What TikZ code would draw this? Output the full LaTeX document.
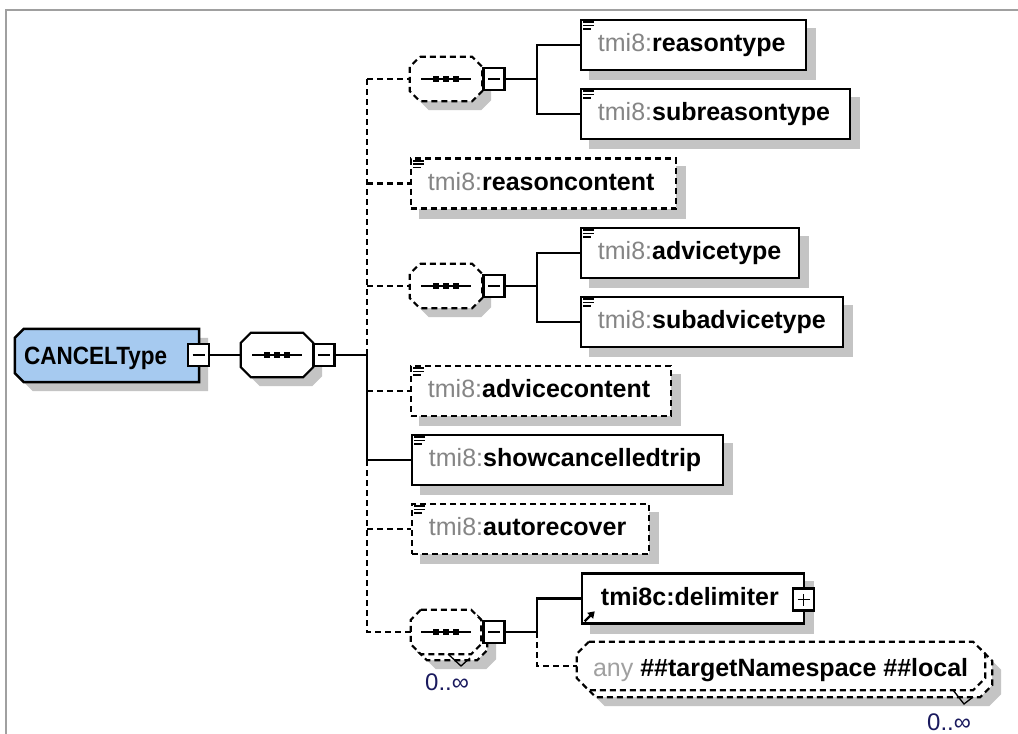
\documentclass[tikz,border=0pt]{standalone}
\usepackage{fontspec}
\setmainfont{Liberation Sans}
\newfontfamily\ctfont[FakeStretch=0.9]{Liberation Sans}
\usetikzlibrary{arrows.meta}
\definecolor{shadowc}{HTML}{C4C4C4}
\definecolor{prefixc}{HTML}{858585}
\definecolor{anyc}{HTML}{A0A0A0}
\definecolor{ctfill}{HTML}{A6CAF0}
\definecolor{framec}{HTML}{A0A0A0}
\definecolor{occc}{HTML}{1A1A5E}
\pgfdeclarelayer{shadow}
\pgfsetlayers{shadow,main}
% name, chamfer, dx, dy, style
\newcommand\octo[5]{%
 \path[#5] ([xshift=#3+#2,yshift=#4]#1.north west) -- ([xshift=#3-#2,yshift=#4]#1.north east)
  -- ([xshift=#3,yshift=#4-#2]#1.north east) -- ([xshift=#3,yshift=#4+#2]#1.south east)
  -- ([xshift=#3-#2,yshift=#4]#1.south east) -- ([xshift=#3+#2,yshift=#4]#1.south west)
  -- ([xshift=#3,yshift=#4+#2]#1.south west) -- ([xshift=#3,yshift=#4-#2]#1.north west) -- cycle;}
\newcommand\elicon[1]{%
 \draw[line width=1.6pt] ([xshift=3.5pt,yshift=-3.5pt]#1.north west) -- ++(11pt,0pt)
  ([xshift=3.5pt,yshift=-6.8pt]#1.north west) -- ++(11pt,0pt)
  ([xshift=3.5pt,yshift=-10.1pt]#1.north west) -- ++(8pt,0pt);}
\newcommand\seqsym[1]{%
 \draw[line width=2pt] ([xshift=-25pt]#1.center) -- ([xshift=25pt]#1.center);
 \foreach \dx in {-10,0,10}{\fill ([xshift={(\dx-3.4)*1pt},yshift=-3.4pt]#1.center) rectangle ++(6.8pt,6.8pt);}}
\newcommand\minsym[1]{\draw[line width=1.8pt] ([xshift=-6pt]#1.center) -- ([xshift=6pt]#1.center);}
\begin{document}
\begin{tikzpicture}[x=1pt,y=-1pt,
  box/.style={draw, line width=2.5pt, fill=white, rectangle, inner sep=0pt, minimum height=50pt},
  dbox/.style={box, dash pattern=on 6pt off 4pt},
  ghost/.style={rectangle, inner sep=0pt},
  conn/.style={line width=2.2pt},
  dconn/.style={conn, dash pattern=on 6pt off 4pt},
  lbl/.style={inner sep=0pt, anchor=base west, font=\fontsize{25}{30}\selectfont},
  occ/.style={inner sep=0pt, anchor=base west, text=occc, font=\fontsize{24}{28}\selectfont},
  pm/.style={draw, line width=2.2pt, fill=white, rectangle, inner sep=0pt, minimum width=21pt, minimum height=22pt},
]
\useasboundingbox (0,0) rectangle (1018,734);

% ghost nodes for shaped items
\node[ghost, minimum width=184pt, minimum height=53pt] (ct) at (107,355.5) {};
\node[ghost, minimum width=72pt, minimum height=44pt] (seq0) at (277,355) {};
\node[ghost, minimum width=72pt, minimum height=44pt] (seq1) at (446,79) {};
\node[ghost, minimum width=72pt, minimum height=44pt] (seq2) at (446,286) {};
\node[ghost, minimum width=70pt, minimum height=44pt] (seq3) at (446,632) {};
\node[ghost, minimum width=408pt, minimum height=48pt] (any) at (781,666) {};

% element boxes
\node[box, minimum width=225pt] (rt) at (693.5,45) {};
\node[box, minimum width=269pt] (srt) at (715.5,114) {};
\node[dbox, minimum width=265pt] (rc) at (543.5,183.5) {};
\node[box, minimum width=218pt] (at) at (690,253) {};
\node[box, minimum width=262pt] (sat) at (712,322) {};
\node[dbox, minimum width=260pt] (ac) at (541,391) {};
\node[box, minimum width=311pt] (sct) at (567.5,460) {};
\node[dbox, minimum width=237pt] (ar) at (530.5,529) {};
\node[box, minimum width=222pt] (del) at (693,598.5) {};

% background and shadows
\begin{pgfonlayer}{shadow}
 \fill[white] (0,0) rectangle (1018,734);
 \draw[framec, line width=2pt] (6.3,734) -- (6.3,10.3) -- (1018,10.3);
 \foreach \n in {rt,srt,rc,at,sat,ac,sct,ar,del}{%
  \fill[shadowc] ([shift={(9pt,-9pt)}]\n.north west) rectangle ([shift={(9pt,-9pt)}]\n.south east);}
 \fill[shadowc] ([shift={(9pt,-9pt)},xshift=9pt]ct.north west) -- ([shift={(9pt,-9pt)}]ct.north east)
   -- ([shift={(9pt,-9pt)}]ct.south east) -- ([shift={(9pt,-9pt)},xshift=9pt]ct.south west)
   -- ([shift={(9pt,-9pt)},yshift=9pt]ct.south west) -- ([shift={(9pt,-9pt)},yshift=-9pt]ct.north west) -- cycle;
 \octo{seq0}{10pt}{9pt}{-9pt}{fill=shadowc}
 \octo{seq1}{10pt}{9pt}{-9pt}{fill=shadowc}
 \octo{seq2}{10pt}{9pt}{-9pt}{fill=shadowc}
 \octo{seq3}{10pt}{15pt}{-15pt}{fill=shadowc}
 \octo{any}{12pt}{16pt}{-16pt}{fill=shadowc}
\end{pgfonlayer}

% shaped items
\draw[line width=2.5pt, fill=ctfill] ([xshift=9pt]ct.north west) -- (ct.north east) -- (ct.south east)
  -- ([xshift=9pt]ct.south west) -- ([yshift=9pt]ct.south west) -- ([yshift=-9pt]ct.north west) -- cycle;
\octo{seq0}{10pt}{0pt}{0pt}{draw, fill=white, conn}
\octo{seq1}{10pt}{0pt}{0pt}{draw, fill=white, dconn}
\octo{seq2}{10pt}{0pt}{0pt}{draw, fill=white, dconn}
\octo{seq3}{10pt}{6pt}{-6pt}{draw, fill=white, dconn}
\octo{seq3}{10pt}{0pt}{0pt}{draw, fill=white, dconn}
\octo{any}{12pt}{7pt}{-7pt}{draw, fill=white, dconn}
\octo{any}{12pt}{0pt}{0pt}{draw, fill=white, dconn}

% multiplicity ticks
\draw[line width=1.3pt] (448,654) -- (461,666) -- (470,658);
\draw[line width=1.3pt] (953,690) -- (964,704) -- (973,697);

% minus / plus boxes
\node[pm] (ctm) at (198.5,355) {};
\node[pm] (seq0m) at (324,355) {};
\node[pm] (seq1m) at (494,79) {};
\node[pm] (seq2m) at (494,286) {};
\node[pm] (seq3m) at (494,632) {};
\node[pm] (delp) at (803.5,599.5) {};
\minsym{ctm}\minsym{seq0m}\minsym{seq1m}\minsym{seq2m}\minsym{seq3m}\minsym{delp}
\draw[line width=1.8pt] ([yshift=-6pt]delp.center) -- ([yshift=6pt]delp.center);

% sequence symbols
\seqsym{seq0}\seqsym{seq1}\seqsym{seq2}\seqsym{seq3}

% connectors
\coordinate (j0) at (367,355);
\coordinate (j1) at (537,79);
\coordinate (j2) at (537,286);
\coordinate (j3) at (537,632);
\draw[conn] (ctm.east) -- (seq0.west);
\draw[conn] (seq0m.east) -- (j0);
\draw[dconn] (j0) -- (j0 |- seq1.west);
\draw[dconn] (j0 |- seq1.west) -- (seq1.west);
\draw[dconn] (j0 |- rc.west) -- (rc.west);
\draw[dconn] (j0 |- seq2.west) -- (seq2.west);
\draw[dconn] (j0 |- ac.west) -- (ac.west);
\draw[conn] (j0) -- (j0 |- sct.west) -- (sct.west);
\draw[dconn] (j0 |- sct.west) -- (j0 |- seq3.west) -- (seq3.west);
\draw[dconn] (j0 |- ar.west) -- (ar.west);
\draw[conn] (seq1m.east) -- (j1);
\draw[conn] (rt.west) -| (j1) |- (srt.west);
\draw[conn] (seq2m.east) -- (j2);
\draw[conn] (at.west) -| (j2) |- (sat.west);
\draw[conn] (seq3m.east) -- (j3) |- (del.west);
\draw[dconn] (j3) |- (any.west);

% icons
\elicon{rt}\elicon{srt}\elicon{rc}\elicon{at}\elicon{sat}\elicon{ac}\elicon{sct}\elicon{ar}
\draw[line width=2.4pt, -{Triangle[length=6.5pt,width=8pt]}] ([xshift=4pt,yshift=3.5pt]del.south west) -- ++(10pt,10pt);

% texts
\node[lbl, font=\ctfont\fontsize{25}{30}\bfseries\selectfont] (ctT) at (24,364) {CANCELType};
\node[lbl] (rtT) at ([xshift=18pt,yshift=-33pt]rt.north west) {\textcolor{prefixc}{tmi8:}\textbf{reasontype}};
\node[lbl] (srtT) at ([xshift=18pt,yshift=-33pt]srt.north west) {\textcolor{prefixc}{tmi8:}\textbf{subreasontype}};
\node[lbl] (rcT) at ([xshift=18pt,yshift=-33pt]rc.north west) {\textcolor{prefixc}{tmi8:}\textbf{reasoncontent}};
\node[lbl] (atT) at ([xshift=18pt,yshift=-33pt]at.north west) {\textcolor{prefixc}{tmi8:}\textbf{advicetype}};
\node[lbl] (satT) at ([xshift=18pt,yshift=-33pt]sat.north west) {\textcolor{prefixc}{tmi8:}\textbf{subadvicetype}};
\node[lbl] (acT) at ([xshift=18pt,yshift=-33pt]ac.north west) {\textcolor{prefixc}{tmi8:}\textbf{advicecontent}};
\node[lbl] (sctT) at ([xshift=18pt,yshift=-33pt]sct.north west) {\textcolor{prefixc}{tmi8:}\textbf{showcancelledtrip}};
\node[lbl] (arT) at ([xshift=18pt,yshift=-33pt]ar.north west) {\textcolor{prefixc}{tmi8:}\textbf{autorecover}};
\node[lbl] (delT) at ([xshift=20pt,yshift=-33pt]del.north west) {\textbf{tmi8c:delimiter}};
\node[lbl] (anyT) at ([xshift=16pt,yshift=-35pt]any.north west) {\textcolor{anyc}{any} \textbf{\#\#targetNamespace \#\#local}};
\node[occ] (occ3) at (425,690) {0..∞};
\node[occ] (occa) at (927,730) {0..∞};
\end{tikzpicture}
\end{document}
